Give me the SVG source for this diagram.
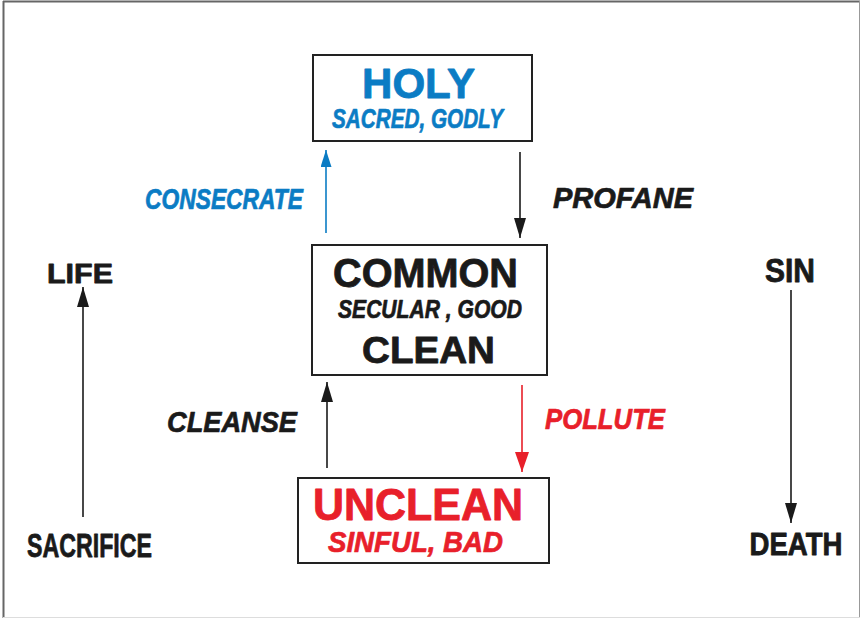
<svg xmlns="http://www.w3.org/2000/svg" width="862" height="620" viewBox="0 0 862 620">
<style>
.box{fill:#fff;stroke:#222;stroke-width:2}
.t{font-family:"Liberation Sans",Arial,sans-serif;font-weight:bold;stroke-width:0.8;stroke-linejoin:round}
.i{font-family:"Liberation Sans",Arial,sans-serif;font-weight:bold;font-style:italic;stroke-width:0.7;stroke-linejoin:round}
.blue{fill:#0b7cc4;stroke:#0b7cc4}
.red{fill:#e8202a;stroke:#e8202a}
.blk{fill:#1a1a1a;stroke:#1a1a1a}
.ln{fill:none;stroke-width:1.6}
</style>
<defs>
<marker id="ab" viewBox="0 0 20 12" refX="20" refY="6" markerWidth="20" markerHeight="12" markerUnits="userSpaceOnUse" orient="auto"><path d="M0,0 L20,6 L0,12 Z" fill="#1a1a1a"/></marker>
<marker id="abl" viewBox="0 0 17 11" refX="17" refY="5.5" markerWidth="17" markerHeight="11" markerUnits="userSpaceOnUse" orient="auto"><path d="M0,0 L17,5.5 L0,11 Z" fill="#0b7cc4"/></marker>
<marker id="ar" viewBox="0 0 20 14" refX="20" refY="7" markerWidth="20" markerHeight="14" markerUnits="userSpaceOnUse" orient="auto"><path d="M0,0 L20,7 L0,14 Z" fill="#e8202a"/></marker>
</defs>
<rect width="862" height="620" fill="#fff"/>
<g id="frame">
<line x1="3.5" y1="1" x2="3.5" y2="618" stroke="#666" stroke-width="2"/>
<line x1="3" y1="1.5" x2="860" y2="1.5" stroke="#666" stroke-width="2"/>
<line x1="859.5" y1="1" x2="859.5" y2="618" stroke="#999" stroke-width="1"/>
<line x1="3" y1="617.5" x2="860" y2="617.5" stroke="#ddd" stroke-width="1"/>
</g>
<g id="connectors">
<line class="ln" x1="326" y1="233" x2="326" y2="150" stroke="#0b7cc4" marker-end="url(#abl)"/>
<line class="ln" x1="520" y1="152" x2="520" y2="238" stroke="#1a1a1a" marker-end="url(#ab)"/>
<line class="ln" x1="327" y1="468" x2="327" y2="382" stroke="#1a1a1a" marker-end="url(#ab)"/>
<line class="ln" x1="522" y1="385" x2="522" y2="472" stroke="#e8202a" marker-end="url(#ar)"/>
<line class="ln" x1="83" y1="517" x2="83" y2="287" stroke="#1a1a1a" marker-end="url(#ab)"/>
<line class="ln" x1="791" y1="290" x2="791" y2="523" stroke="#1a1a1a" marker-end="url(#ab)"/>
</g>
<g id="holy">
<rect class="box" x="313" y="55" width="219" height="86"/>
<text class="t blue" x="418.5" y="98" font-size="42" text-anchor="middle" textLength="113" lengthAdjust="spacingAndGlyphs">HOLY</text>
<text class="i blue" x="417.5" y="128" font-size="27" text-anchor="middle" textLength="171" lengthAdjust="spacingAndGlyphs">SACRED, GODLY</text>
</g>
<g id="common">
<rect class="box" x="312" y="245" width="235" height="130"/>
<text class="t blk" x="425.5" y="287" font-size="40" text-anchor="middle" textLength="185" lengthAdjust="spacingAndGlyphs">COMMON</text>
<text class="i blk" x="430" y="318" font-size="25" text-anchor="middle" textLength="184" lengthAdjust="spacingAndGlyphs">SECULAR , GOOD</text>
<text class="t blk" x="428.5" y="363" font-size="37" text-anchor="middle" textLength="133" lengthAdjust="spacingAndGlyphs">CLEAN</text>
</g>
<g id="unclean">
<rect class="box" x="298" y="478" width="251" height="85"/>
<text class="t red" x="418" y="520" font-size="44" text-anchor="middle" textLength="210" lengthAdjust="spacingAndGlyphs">UNCLEAN</text>
<text class="i red" x="415.5" y="552" font-size="29" text-anchor="middle" textLength="175" lengthAdjust="spacingAndGlyphs">SINFUL, BAD</text>
</g>
<g id="consecrate"><text class="i blue" x="224" y="209" font-size="29" text-anchor="middle" textLength="158" lengthAdjust="spacingAndGlyphs">CONSECRATE</text></g>
<g id="profane"><text class="i blk" x="623" y="208" font-size="29" text-anchor="middle" textLength="140" lengthAdjust="spacingAndGlyphs">PROFANE</text></g>
<g id="cleanse"><text class="i blk" x="232" y="432" font-size="30" text-anchor="middle" textLength="130" lengthAdjust="spacingAndGlyphs">CLEANSE</text></g>
<g id="pollute"><text class="i red" x="605" y="429" font-size="29" text-anchor="middle" textLength="120" lengthAdjust="spacingAndGlyphs">POLLUTE</text></g>
<g id="life"><text class="t blk" x="80" y="283" font-size="28" text-anchor="middle" textLength="66" lengthAdjust="spacingAndGlyphs">LIFE</text></g>
<g id="sacrifice"><text class="t blk" x="89.5" y="557" font-size="34" text-anchor="middle" textLength="125" lengthAdjust="spacingAndGlyphs">SACRIFICE</text></g>
<g id="sin"><text class="t blk" x="790" y="282" font-size="33" text-anchor="middle" textLength="50" lengthAdjust="spacingAndGlyphs">SIN</text></g>
<g id="death"><text class="t blk" x="796" y="555" font-size="31" text-anchor="middle" textLength="93" lengthAdjust="spacingAndGlyphs">DEATH</text></g>
</svg>
